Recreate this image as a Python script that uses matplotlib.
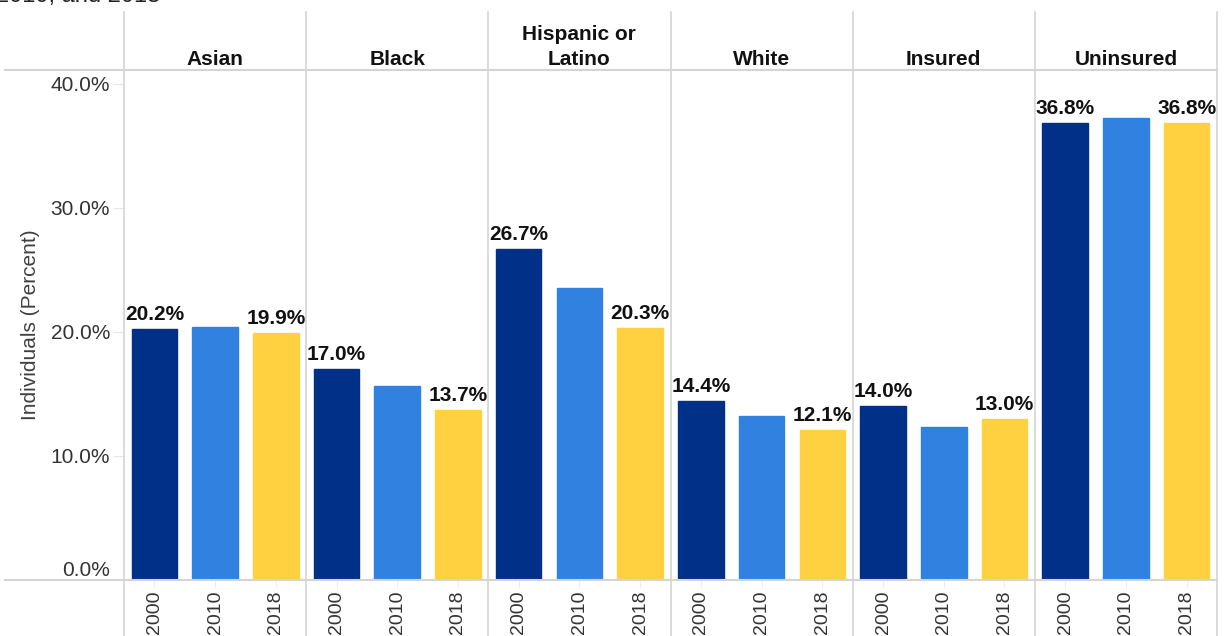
import matplotlib
matplotlib.use("Agg")
import matplotlib.pyplot as plt
from matplotlib.lines import Line2D

plt.rcParams['font.family'] = ['Liberation Sans', 'DejaVu Sans']

groups = ["Asian", "Black", "Hispanic or\nLatino", "White", "Insured", "Uninsured"]
years = ["2000", "2010", "2018"]
v2000 = [20.2, 17.0, 26.7, 14.4, 14.0, 36.8]
v2010 = [20.4, 15.6, 23.5, 13.2, 12.3, 37.2]
v2018 = [19.9, 13.7, 20.3, 12.1, 13.0, 36.8]
yticks = [0, 10, 20, 30, 40]
colors = ["#003087", "#3182E0", "#FFD141"]

W, H = 1225, 636
fig = plt.figure(figsize=(W / 100, H / 100), dpi=100)
L, R, T, B = 124, 1217, 70, 580
ax = fig.add_axes([L / W, 1 - B / H, (R - L) / W, (B - T) / H])

series = [v2000, v2010, v2018]
ng = len(groups)
ny = len(years)
positions, labels = [], []
for gi in range(ng):
    for yi in range(ny):
        x = gi * ny + yi + 0.5
        val = series[yi][gi]
        ax.bar(x, val, width=0.75, color=colors[yi], edgecolor=colors[yi])
        positions.append(x)
        labels.append(years[yi])
        if yi != 1:
            ax.text(x, val + 0.4, f"{val:.1f}%", ha="center", va="bottom",
                    fontsize=15, fontweight="bold", color="#111111")

ax.set_xlim(0, ng * ny)
ax.set_ylim(0, 41.1)
ax.set_xticks(positions)
ax.set_xticklabels(labels, rotation=90, fontsize=14, color="#333333")
ax.set_yticks(yticks)
ax.set_yticklabels([f"{t:.1f}%" for t in yticks], fontsize=15, color="#333333")
ax.tick_params(axis="y", length=8, color="#e6e6e6", pad=2)
ax.tick_params(axis="x", length=6, color="#eeeeee", pad=1.5)
ytl = ax.get_yticklabels()
ytl[0].set_verticalalignment("bottom")
for s in ax.spines.values():
    s.set_visible(False)
ax.set_ylabel("Individuals (Percent)", fontsize=15, color="#404040")
ax.yaxis.set_label_coords(-0.077, 0.5)

# facet headers
for gi, g in enumerate(groups):
    fig.text((L + (R - L) * (gi + 0.5) / ng) / W, 1 - 69 / H, g, ha="center",
             va="bottom", fontsize=15, fontweight="bold", color="#111111",
             linespacing=1.4)

# grid lines (dividers & header/axis lines)
lc = "#d4d4d4"
for gi in range(ng + 1):
    x = (L + (R - L) * gi / ng) / W
    fig.add_artist(Line2D([x, x], [0, 1 - 12 / H], color=lc, lw=1.2))
for y in (T, B):
    fig.add_artist(Line2D([5 / W, R / W], [1 - y / H, 1 - y / H], color=lc, lw=1.5))

# clipped title remnant
fig.text(-4 / W, 1 + 4 / H, "2010, and 2018", ha="left", va="center",
         fontsize=17, color="#222222")

fig.savefig("out.png", dpi=100)
